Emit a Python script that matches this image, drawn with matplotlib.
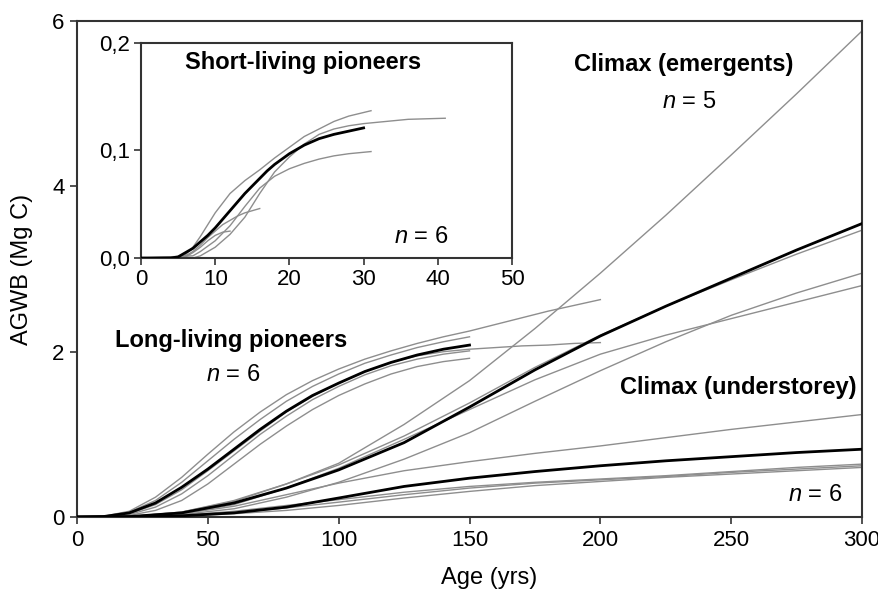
import matplotlib
matplotlib.use("Agg")
import matplotlib.pyplot as plt

plt.rcParams['font.family'] = ['Liberation Sans', 'DejaVu Sans']
plt.rcParams['mathtext.fontset'] = 'custom'
plt.rcParams['mathtext.it'] = 'Liberation Sans:italic'
plt.rcParams['mathtext.rm'] = 'Liberation Sans'
TICK_FONT = ['Liberation Sans Narrow', 'Liberation Sans', 'DejaVu Sans']

# ---------------- main panel: above-ground woody biomass (Mg C) by age ----------------
pioneer_age = [0, 10, 20, 30, 40, 50, 60, 70, 80, 90, 100, 110, 120, 130, 140, 150]
pioneer_age_long = pioneer_age + [160, 170, 180, 190, 200]

pioneer_mean = [0, 0.005, 0.05, 0.17, 0.36, 0.58, 0.82, 1.06, 1.28, 1.47, 1.62, 1.76, 1.87, 1.96, 2.03, 2.08]
pioneer_a = [0, 0.008, 0.07, 0.24, 0.48, 0.76, 1.03, 1.27, 1.48, 1.65, 1.79, 1.91, 2.01, 2.10, 2.18, 2.25,
             2.33, 2.41, 2.49, 2.56, 2.63]
pioneer_b = [0, 0.006, 0.06, 0.20, 0.42, 0.68, 0.94, 1.18, 1.40, 1.58, 1.73, 1.86, 1.96, 2.05, 2.12, 2.18]
pioneer_c = [0, 0.003, 0.03, 0.12, 0.28, 0.50, 0.75, 1.00, 1.22, 1.42, 1.58, 1.72, 1.83, 1.91, 1.97, 2.01]
pioneer_d = [0, 0.002, 0.02, 0.08, 0.20, 0.40, 0.64, 0.88, 1.10, 1.30, 1.47, 1.61, 1.73, 1.82, 1.88, 1.92]
pioneer_e = [0, 0.004, 0.04, 0.15, 0.33, 0.56, 0.80, 1.04, 1.27, 1.46, 1.62, 1.76, 1.87, 1.95, 2.00, 2.03,
             2.05, 2.07, 2.08, 2.10, 2.11]

climax_age = [0, 20, 40, 60, 80, 100, 125, 150, 175, 200, 225, 250, 275, 300]

emergent_mean = [0, 0.005, 0.05, 0.17, 0.35, 0.57, 0.90, 1.33, 1.78, 2.19, 2.55, 2.89, 3.23, 3.55]
emergent_a = [0, 0.005, 0.06, 0.19, 0.40, 0.65, 1.12, 1.65, 2.28, 2.95, 3.65, 4.38, 5.12, 5.88]
emergent_b = [0, 0.006, 0.06, 0.20, 0.40, 0.63, 0.98, 1.38, 1.81, 2.20, 2.55, 2.87, 3.18, 3.47]
emergent_c = [0, 0.004, 0.04, 0.15, 0.35, 0.59, 0.94, 1.30, 1.66, 1.97, 2.20, 2.40, 2.60, 2.80]
emergent_d = [0, 0.002, 0.03, 0.10, 0.24, 0.42, 0.70, 1.02, 1.40, 1.77, 2.12, 2.44, 2.71, 2.95]

understorey_mean = [0, 0.002, 0.015, 0.05, 0.12, 0.23, 0.37, 0.47, 0.55, 0.62, 0.68, 0.73, 0.78, 0.82]
understorey_a = [0, 0.004, 0.04, 0.13, 0.27, 0.41, 0.56, 0.67, 0.77, 0.86, 0.96, 1.06, 1.15, 1.24]
understorey_b = [0, 0.002, 0.02, 0.07, 0.14, 0.21, 0.30, 0.37, 0.42, 0.46, 0.50, 0.55, 0.60, 0.64]
understorey_c = [0, 0.001, 0.01, 0.04, 0.08, 0.14, 0.23, 0.31, 0.38, 0.43, 0.48, 0.52, 0.56, 0.60]
understorey_d = [0, 0.002, 0.015, 0.05, 0.11, 0.18, 0.27, 0.35, 0.41, 0.45, 0.49, 0.54, 0.58, 0.62]

main_xticks = [0, 50, 100, 150, 200, 250, 300]
main_yticks = [0, 2, 4, 6]

# ---------------- inset: short-living pioneers ----------------
short_age_mean = [0, 3, 4, 5, 6, 7, 8, 9, 10, 11, 12, 13, 14, 15, 16, 17, 18, 19, 20, 22, 24, 26, 28, 30]
short_mean = [0, 0, 0.0, 0.001, 0.005, 0.009, 0.015, 0.021, 0.028, 0.036, 0.044, 0.052, 0.060, 0.067,
              0.074, 0.081, 0.087, 0.092, 0.097, 0.105, 0.111, 0.115, 0.118, 0.121]

short_age_a = [0, 5, 6, 7, 8, 9, 10, 12, 14, 16, 18, 20, 22, 24, 26, 28, 31]
short_a = [0, 0, 0.003, 0.010, 0.020, 0.031, 0.042, 0.060, 0.072, 0.082, 0.093, 0.103, 0.113, 0.120,
           0.127, 0.132, 0.137]

short_age_b = [0, 7, 8, 10, 12, 14, 16, 18, 20, 22, 24, 26, 28, 30, 33, 36, 41]
short_b = [0, 0, 0.002, 0.010, 0.022, 0.038, 0.060, 0.080, 0.094, 0.106, 0.115, 0.120, 0.123, 0.125,
           0.127, 0.129, 0.130]

short_age_c = [0, 7, 8, 10, 12, 14, 16, 18, 20, 22, 24, 26, 28, 31]
short_c = [0, 0.002, 0.006, 0.016, 0.030, 0.048, 0.065, 0.076, 0.083, 0.088, 0.092, 0.095, 0.097, 0.099]

short_age_d = [0, 5, 6, 7, 8, 9, 10, 11, 12, 13, 14, 16]
short_d = [0, 0, 0.002, 0.006, 0.012, 0.019, 0.025, 0.031, 0.035, 0.039, 0.042, 0.046]

short_age_e = [0, 6, 7, 8, 9, 10, 11, 12]
short_e = [0, 0.001, 0.005, 0.010, 0.016, 0.021, 0.024, 0.025]

inset_xticks = [0, 10, 20, 30, 40, 50]
inset_yticks = [0.0, 0.1, 0.2]
inset_ytick_labels = ['0,0', '0,1', '0,2']

GREY = '#8e8e8e'
DARK = '#333333'
TICK_SIZE = 16
NOTE_SIZE = 17

fig = plt.figure(figsize=(8.79, 5.89), dpi=100)
ax = fig.add_axes([0.0876, 0.1222, 0.8931, 0.8421])

grey_curves = [
    (pioneer_age_long, pioneer_a), (pioneer_age, pioneer_b), (pioneer_age, pioneer_c),
    (pioneer_age, pioneer_d), (pioneer_age_long, pioneer_e),
    (climax_age, emergent_a), (climax_age, emergent_b), (climax_age, emergent_c), (climax_age, emergent_d),
    (climax_age, understorey_a), (climax_age, understorey_b), (climax_age, understorey_c),
    (climax_age, understorey_d),
]
for xs, ys in grey_curves:
    ax.plot(xs, ys, color=GREY, lw=1.0, zorder=2)
for xs, ys in [(pioneer_age, pioneer_mean), (climax_age, emergent_mean), (climax_age, understorey_mean)]:
    ax.plot(xs, ys, color='black', lw=2.0, zorder=3)

ax.set_xlim(0, 300)
ax.set_ylim(0, 6)
ax.set_xticks(main_xticks)
ax.set_yticks(main_yticks)
ax.set_xticklabels([str(v) for v in main_xticks], family=TICK_FONT, fontsize=TICK_SIZE)
ax.set_yticklabels([str(v) for v in main_yticks], family=TICK_FONT, fontsize=TICK_SIZE)
ax.tick_params(direction='out', length=5, width=1.2, color=DARK, pad=4)
for sp in ax.spines.values():
    sp.set_color(DARK)
    sp.set_linewidth(1.5)
ax.set_xlabel('Age (yrs)', fontsize=17)
ax.set_ylabel('AGWB (Mg C)', fontsize=17)
ax.xaxis.set_label_coords(0.525, -0.1)
ax.yaxis.set_label_coords(-0.056, 0.5)

ax.text(59, 2.14, 'Long-living pioneers', ha='center', va='center', fontsize=NOTE_SIZE, fontweight='bold')
ax.text(59.5, 1.72, r'$n$ = 6', ha='center', va='center', fontsize=NOTE_SIZE)
ax.text(232, 5.47, 'Climax (emergents)', ha='center', va='center', fontsize=NOTE_SIZE, fontweight='bold')
ax.text(234, 5.02, r'$n$ = 5', ha='center', va='center', fontsize=NOTE_SIZE)
ax.text(298, 1.57, 'Climax (understorey)', ha='right', va='center', fontsize=NOTE_SIZE, fontweight='bold')
ax.text(282, 0.27, r'$n$ = 6', ha='center', va='center', fontsize=NOTE_SIZE)

# inset panel
ins = fig.add_axes([0.1604, 0.5620, 0.4221, 0.3650])
ins.set_facecolor('white')
for xs, ys in [(short_age_a, short_a), (short_age_b, short_b), (short_age_c, short_c),
               (short_age_d, short_d), (short_age_e, short_e)]:
    ins.plot(xs, ys, color=GREY, lw=1.0, zorder=2)
ins.plot(short_age_mean, short_mean, color='black', lw=2.0, zorder=3)
ins.set_xlim(0, 50)
ins.set_ylim(0, 0.2)
ins.set_xticks(inset_xticks)
ins.set_yticks(inset_yticks)
ins.set_xticklabels([str(v) for v in inset_xticks], family=TICK_FONT, fontsize=TICK_SIZE)
ins.set_yticklabels(inset_ytick_labels, family=TICK_FONT, fontsize=TICK_SIZE)
ins.tick_params(direction='out', length=5, width=1.2, color=DARK, pad=3)
for sp in ins.spines.values():
    sp.set_color(DARK)
    sp.set_linewidth(1.5)
ins.text(21.8, 0.182, 'Short-living pioneers', ha='center', va='center', fontsize=NOTE_SIZE, fontweight='bold')
ins.text(37.7, 0.0195, r'$n$ = 6', ha='center', va='center', fontsize=NOTE_SIZE)

fig.savefig('out.png', dpi=100)
